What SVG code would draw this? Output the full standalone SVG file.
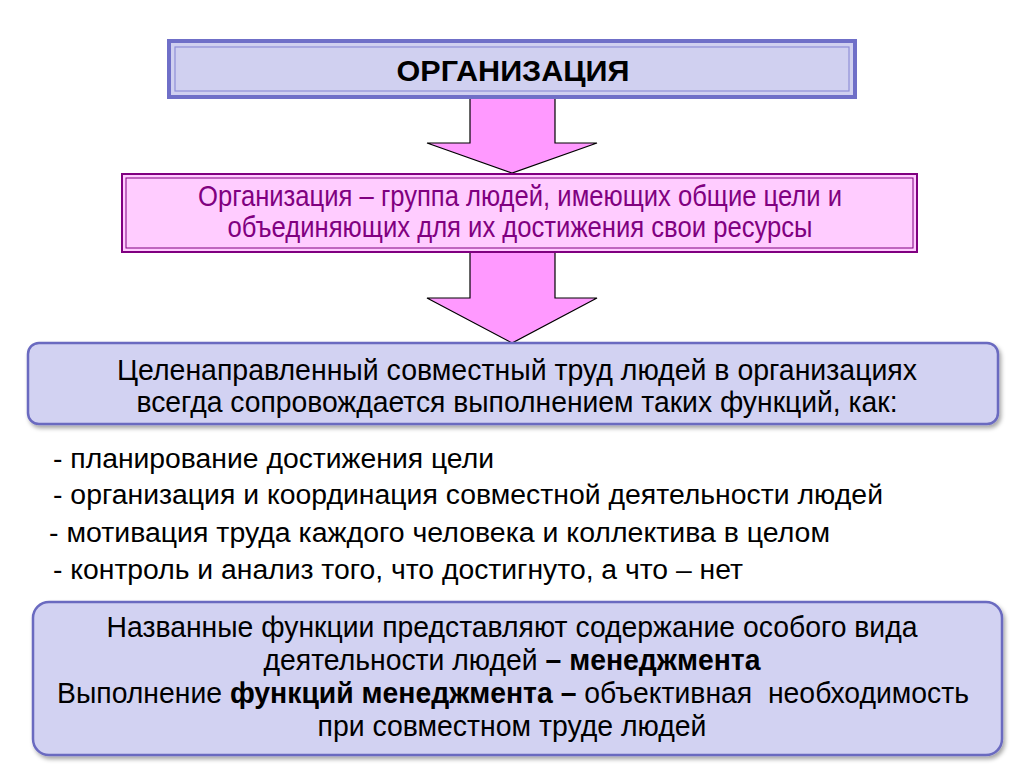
<svg xmlns="http://www.w3.org/2000/svg" width="1024" height="767" viewBox="0 0 1024 767">
<defs>
<style>
.nar{font-family:"Liberation Sans Narrow","Liberation Sans",Arial,sans-serif;font-size:30px;fill:#000}
.reg{font-family:"Liberation Sans",Arial,sans-serif;font-size:27px;fill:#000}
.pur{fill:#800080}
.arrow{fill:#ff99ff;stroke:#000;stroke-width:1.2}
.rbox{fill:#d2d2f2;stroke:#6a6ac0;stroke-width:2.5}
</style>
<filter id="sh" x="-5%" y="-10%" width="110%" height="130%">
<feDropShadow dx="2" dy="3" stdDeviation="2" flood-color="#000" flood-opacity="0.35"/>
</filter>
</defs>
<rect width="1024" height="767" fill="#fff"/>
<g id="connectors">
<polygon class="arrow" points="470,97 555,97 555,143 597,143 512,173 427,143 470,143"/>
<polygon class="arrow" points="470,252 555,252 555,298 597,298 512,343 427,298 470,298"/>
</g>
<g id="node-organization">
<rect x="169" y="41" width="686" height="56" fill="#d0d0f0" stroke="#6f6fc8" stroke-width="4"/>
<rect x="175" y="47" width="674" height="44" fill="none" stroke="#8f8fd8" stroke-width="1.2"/>
<text class="nar" x="513" y="81" text-anchor="middle" font-size="34" font-weight="bold" textLength="233" lengthAdjust="spacingAndGlyphs">ОРГАНИЗАЦИЯ</text>
</g>
<g id="node-definition">
<rect x="122" y="174" width="795" height="78" fill="#ffccff" stroke="#800080" stroke-width="2"/>
<rect x="126" y="178" width="787" height="70" fill="none" stroke="#800080" stroke-width="1"/>
<text class="nar pur" x="520" y="206" text-anchor="middle" font-size="27" textLength="644" lengthAdjust="spacingAndGlyphs">Организация – группа людей, имеющих общие цели и</text>
<text class="nar pur" x="520" y="237" text-anchor="middle" font-size="27" textLength="585" lengthAdjust="spacingAndGlyphs">объединяющих для их достижения свои ресурсы</text>
</g>
<g id="node-functions">
<rect class="rbox" x="28" y="343" width="970" height="81" rx="11" filter="url(#sh)"/>
<text class="nar" x="517" y="380" text-anchor="middle" textLength="800" lengthAdjust="spacingAndGlyphs">Целенаправленный совместный труд людей в организациях</text>
<text class="nar" x="517" y="412" text-anchor="middle" textLength="761" lengthAdjust="spacingAndGlyphs">всегда сопровождается выполнением таких функций, как:</text>
</g>
<g id="list">
<text class="reg" x="53" y="468" textLength="441" lengthAdjust="spacingAndGlyphs">- планирование достижения цели</text>
<text class="reg" x="53" y="504" textLength="830" lengthAdjust="spacingAndGlyphs">- организация и координация совместной деятельности людей</text>
<text class="reg" x="49" y="542" textLength="781" lengthAdjust="spacingAndGlyphs">- мотивация труда каждого человека и коллектива в целом</text>
<text class="reg" x="53" y="579" textLength="690" lengthAdjust="spacingAndGlyphs">- контроль и анализ того, что достигнуто, а что – нет</text>
</g>
<g id="node-management">
<rect class="rbox" x="33" y="602" width="969" height="153" rx="16" filter="url(#sh)"/>
<text class="nar" x="512" y="637" text-anchor="middle" font-size="29" textLength="811" lengthAdjust="spacingAndGlyphs">Названные функции представляют содержание особого вида</text>
<text class="nar" x="512" y="670" text-anchor="middle" font-size="29" textLength="497" lengthAdjust="spacingAndGlyphs">деятельности людей <tspan font-weight="bold">– менеджмента</tspan></text>
<text class="nar" x="513" y="703" text-anchor="middle" font-size="29" textLength="912" lengthAdjust="spacingAndGlyphs" style="white-space:pre">Выполнение <tspan font-weight="bold">функций менеджмента –</tspan> объективная  необходимость</text>
<text class="nar" x="512" y="736" text-anchor="middle" font-size="29" textLength="389" lengthAdjust="spacingAndGlyphs">при совместном труде людей</text>
</g>
</svg>
